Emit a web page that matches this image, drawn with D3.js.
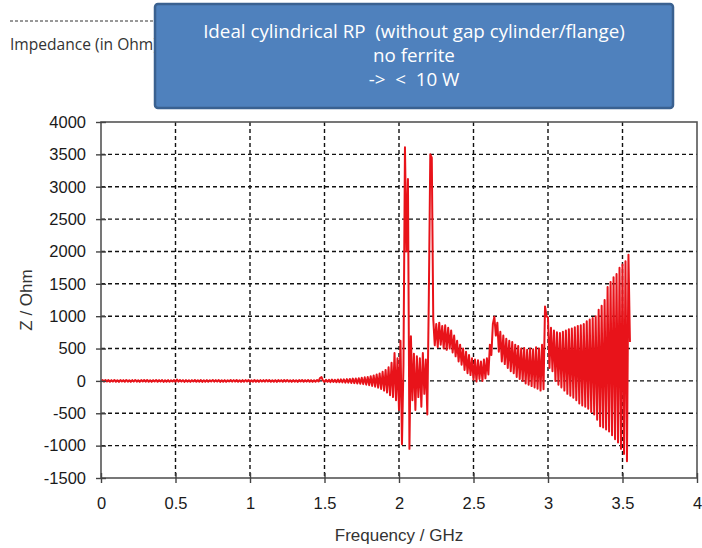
<!DOCTYPE html>
<html>
<head>
<meta charset="utf-8">
<script src="https://cdn.jsdelivr.net/npm/d3@7"></script>
<style>
  html, body { margin: 0; padding: 0; background: #fff; }
  svg { display: block; }
  .pre { white-space: pre; }
</style>
</head>
<body>
<svg id="chart" width="702" height="548"></svg>
<script>
// ---- Data ----
const freqStart = 0.0;     // GHz
const freqStep = 0.01;     // GHz, sampling of the trace
const xTicks = [0, 0.5, 1, 1.5, 2, 2.5, 3, 3.5, 4];
const yTicks = [-1500, -1000, -500, 0, 500, 1000, 1500, 2000, 2500, 3000, 3500, 4000];
const xLabel = "Frequency / GHz";
const yLabel = "Z / Ohm";
const boxLines = ["Ideal cylindrical RP  (without gap cylinder/flange)", "no ferrite", "->  <  10 W"];
const headerText = "Impedance (in Ohm)";

// Z (Ohm) 0.00 - 1.44 GHz
const zFlat = [
  0, 14, -12, 15, -10, 13, -14, 12, -11, 15,
  -13, 11, -15, 14, -10, 12, -13, 15, -12, 10,
  -14, 13, -11, 15, -12, 10, -15, 13, -10, 14,
  -12, 15, -13, 11, -14, 12, -10, 15, -13, 12,
  -11, 14, -15, 10, -12, 13, -14, 11, -10, 15,
  -13, 20, -12, 14, -11, 12, -15, 13, -12, 10,
  -14, 12, -10, 15, -13, 11, -12, 14, -15, 10,
  -12, 13, -14, 11, -10, 15, -12, 13, -11, 14,
  -15, 10, -13, 12, -14, 11, -10, 15, -12, 13,
  -11, 14, -13, 10, -15, 12, -12, 13, -10, 15,
  -14, 11, -12, 14, -13, 10, -15, 12, -11, 13,
  -12, 15, -10, 13, -14, 11, -13, 12, -15, 14,
  -10, 12, -13, 15, -11, 14, -12, 10, -14, 13,
  -12, 11, -15, 13, -10, 14, -13, 12, -11, 15,
  -13, 12, -14, 11, -12
];
// 1.45 - 1.99 GHz
const zRise = [
  14, -10, 45, 60, 5, -15, 18, -14, 16, -18,
  20, -17, 18, -20, 22, -20, 24, -22, 25, -26,
  28, -27, 30, -32, 35, -34, 38, -40, 42, -45,
  48, -50, 55, -58, 62, -66, 72, -78, 85, -90,
  100, -105, 115, -125, 140, -150, 170, -180, 210, -220,
  280, -250, 430, -300, 350
];
// 2.00 - 2.30 GHz
const zPeaks = [
  -450, 620, -980, 250, 3610, 2000, 3120, -1050, 690, -300,
  420, -450, 380, -250, 350, -400, 430, -200, 330, -520,
  1250, 3500, 3450, 950, 550, 880, 520, 900, 560, 850,
  500
];
// 2.31 - 2.99 GHz
const zMid = [
  860, 480, 820, 500, 780, 440, 700, 380, 620, 300,
  560, 250, 500, 170, 450, 120, 400, 90, 350, 20,
  330, -10, 320, 30, 300, 0, 330, 40, 350, 100,
  560, 400, 880, 990, 700, 900, 450, 760, 300, 700,
  260, 650, 200, 620, 150, 600, 120, 560, 60, 540,
  30, 500, 0, 510, -40, 480, -60, 500, -80, 490,
  -100, 520, -120, 500, -150, 560, -130, 1150, 1000
];
// 3.00 - 3.55 GHz
const zTail = [
  980, 200, 820, 150, 780, 0, 750, -60, 740, -100,
  760, -150, 780, -200, 800, -230, 810, -260, 830, -300,
  850, -350, 860, -380, 880, -400, 920, -430, 950, -480,
  970, -520, 1000, -600, 1100, -700, 1160, -720, 1250, -750,
  1450, -780, 1530, -840, 1600, -900, 1650, -950, 1750, -1050,
  1800, -1130, 1850, -1240, 1950, 600
];

const zAll = [].concat(zFlat, zRise, zPeaks, zMid, zTail);
const trace = zAll.map((v, i) => ({ f: +(freqStart + i * freqStep).toFixed(2), z: v }));

// ---- Layout ----
const svg = d3.select("#chart");
const plot = { left: 101, right: 697, top: 122, bottom: 478 };
const x = d3.scaleLinear().domain([0, 4]).range([plot.left, plot.right]);
const y = d3.scaleLinear().domain([-1500, 4000]).range([plot.bottom, plot.top]);
const fontFam = "'Liberation Sans', Arial, sans-serif";

// grid
const grid = svg.append("g");
grid.selectAll("line.gx").data(xTicks.filter(t => t > 0 && t < 4)).join("line")
  .attr("x1", d => x(d)).attr("x2", d => x(d))
  .attr("y1", plot.top).attr("y2", plot.bottom)
  .attr("stroke", "#111").attr("stroke-width", 1.4).attr("stroke-dasharray", "4,3");
grid.selectAll("line.gy").data(yTicks.filter(t => t > -1500 && t < 4000)).join("line")
  .attr("y1", d => y(d)).attr("y2", d => y(d))
  .attr("x1", plot.left).attr("x2", plot.right)
  .attr("stroke", "#111").attr("stroke-width", 1.4).attr("stroke-dasharray", "4,3");

// trace
const line = d3.line().x(d => x(d.f)).y(d => y(d.z));
svg.append("path").datum(trace)
  .attr("d", line)
  .attr("fill", "none")
  .attr("stroke", "#e8131a")
  .attr("stroke-width", 2)
  .attr("stroke-linejoin", "round");

// frame
svg.append("rect")
  .attr("x", plot.left).attr("y", plot.top)
  .attr("width", plot.right - plot.left).attr("height", plot.bottom - plot.top)
  .attr("fill", "none").attr("stroke", "#555").attr("stroke-width", 1.6);

// axes
const fmt = d => String(d);
const xAxis = svg.append("g").attr("transform", `translate(0,${plot.bottom})`)
  .call(d3.axisBottom(x).tickValues(xTicks).tickFormat(fmt).tickSize(5).tickPadding(14));
const yAxis = svg.append("g").attr("transform", `translate(${plot.left},0)`)
  .call(d3.axisLeft(y).tickValues(yTicks).tickFormat(fmt).tickSize(5).tickPadding(10));
[xAxis, yAxis].forEach(g => {
  g.select(".domain").remove();
  g.selectAll(".tick text").attr("font-family", fontFam).attr("font-size", 16.5).attr("fill", "#1a1a1a");
  g.selectAll(".tick line").attr("stroke", "#444").attr("stroke-width", 1.4);
});
xAxis.selectAll(".tick line").attr("y1", -5).attr("y2", 5);
yAxis.selectAll(".tick line").attr("x1", -5).attr("x2", 5);

// axis titles
svg.append("text").text(xLabel)
  .attr("x", (plot.left + plot.right) / 2).attr("y", 541)
  .attr("text-anchor", "middle").attr("font-family", fontFam).attr("font-size", 17).attr("fill", "#333");
svg.append("text").text(yLabel)
  .attr("transform", `translate(32,${(plot.top + plot.bottom) / 2}) rotate(-90)`)
  .attr("text-anchor", "middle").attr("font-family", fontFam).attr("font-size", 17).attr("fill", "#333");

// header fragment (behind box)
svg.append("line").attr("x1", 10).attr("x2", 156).attr("y1", 21).attr("y2", 21)
  .attr("stroke", "#333").attr("stroke-width", 1).attr("stroke-dasharray", "3,2");
const hdr = svg.append("text").text(headerText)
  .attr("x", 10).attr("y", 50)
  .attr("font-family", "'Open Sans', sans-serif").attr("font-size", 14).attr("fill", "#333");
{
  const w = hdr.node().getComputedTextLength();
  hdr.attr("font-size", 14 * 148 / w);
}

// annotation box
svg.append("rect")
  .attr("x", 155).attr("y", 4).attr("width", 518).attr("height", 104)
  .attr("rx", 3).attr("fill", "#4f81bd").attr("stroke", "#3a6190").attr("stroke-width", 2.5);
const cx = 155 + 518 / 2;
const bt = svg.append("g").attr("font-family", "'Open Sans', sans-serif").attr("fill", "#fff").attr("text-anchor", "middle");
const baselines = [38, 62, 86];
const tNodes = boxLines.map((s, i) => bt.append("text").attr("class", "pre").text(s).attr("x", cx).attr("y", baselines[i]).attr("font-size", 16));
{
  const w = tNodes[0].node().getComputedTextLength();
  const fs = 16 * 422 / w;
  tNodes.forEach(t => t.attr("font-size", fs));
}
</script>
</body>
</html>
